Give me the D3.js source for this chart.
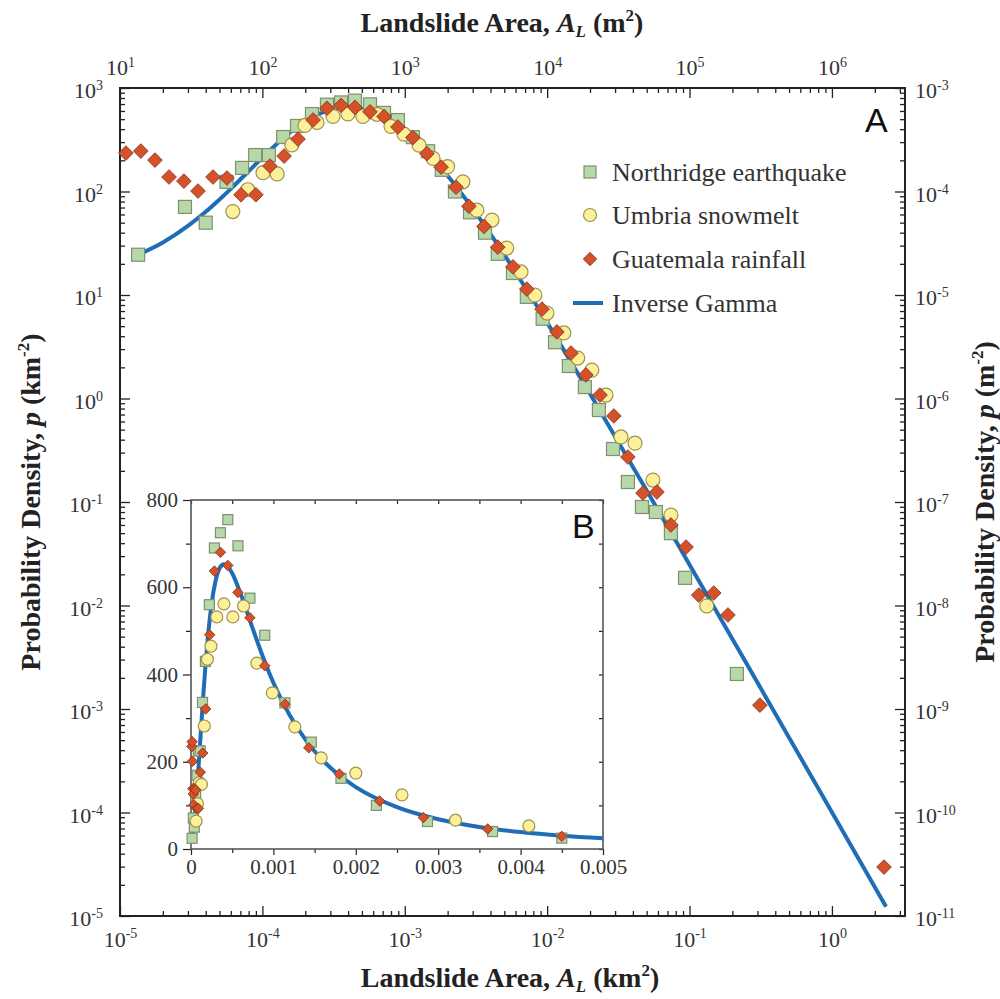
<!DOCTYPE html>
<html>
<head>
<meta charset="utf-8">
<script src="https://cdn.jsdelivr.net/npm/d3@7"></script>
<style>
  body { margin: 0; background: #fff; }
  svg { font-family: "Liberation Serif", "Times New Roman", serif; }
  .tick line { stroke: #222; }
  .tick text { fill: #333; }
  .title { font-weight: bold; font-size: 28px; fill: #222; }
  .legend text { font-size: 26px; fill: #333; }
</style>
</head>
<body>
<div id="chart"></div>
<script>
// Northridge earthquake (km^2, km^-2)
const northridgeArea = [1.34e-5, 2.86e-5, 4.0e-5, 5.6e-5, 7.2e-5, 8.9e-5, 1.11e-4, 1.40e-4, 1.75e-4, 2.23e-4,
  2.84e-4, 3.57e-4, 4.47e-4, 5.7e-4, 7.15e-4, 8.95e-4, 1.14e-3, 1.46e-3, 1.82e-3, 2.25e-3, 2.87e-3, 3.66e-3,
  4.5e-3, 5.75e-3, 7.2e-3, 9.3e-3, 1.135e-2, 1.42e-2, 1.84e-2, 2.31e-2, 2.9e-2, 3.69e-2, 4.63e-2, 5.8e-2,
  7.4e-2, 9.3e-2, 0.215];
const northridgeDensity = [24.5, 71, 50, 124, 169, 225, 225, 336, 430, 560,
  690, 725, 755, 695, 575, 490, 335, 245, 162, 100, 63, 40,
  25, 16.3, 9.6, 5.9, 3.5, 2.06, 1.29, 0.774, 0.325, 0.156, 0.0895, 0.080,
  0.050, 0.0185, 0.00218];

// Umbria snowmelt
const umbriaArea = [6.2e-5, 7.9e-5, 1.01e-4, 1.27e-4, 1.61e-4, 1.99e-4, 2.42e-4, 3.13e-4, 3.99e-4, 5.08e-4,
  6.38e-4, 8.0e-4, 9.87e-4, 1.26e-3, 1.58e-3, 2.0e-3, 2.56e-3, 3.21e-3, 4.1e-3, 5.2e-3, 6.55e-3, 8.2e-3,
  9.97e-3, 1.31e-2, 1.64e-2, 2.06e-2, 2.59e-2, 3.3e-2, 4.14e-2, 5.53e-2, 7.4e-2, 0.132];
const umbriaDensity = [64, 104, 152, 148, 282, 435, 465, 532, 562, 532,
  557, 426, 358, 280, 209, 174, 124, 66, 53, 28.4, 16.7, 10,
  6.7, 4.3, 2.46, 1.88, 1.08, 0.425, 0.37, 0.163, 0.0748, 0.0099];

// Guatemala rainfall
const guatemalaArea = [1.1e-5, 1.4e-5, 1.76e-5, 2.21e-5, 2.81e-5, 3.53e-5, 4.5e-5, 5.64e-5, 7.08e-5, 9.0e-5,
  1.13e-4, 1.42e-4, 1.78e-4, 2.27e-4, 2.84e-4, 3.57e-4, 4.47e-4, 5.7e-4, 7.15e-4, 8.95e-4, 1.14e-3, 1.43e-3,
  1.8e-3, 2.29e-3, 2.82e-3, 3.6e-3, 4.5e-3, 5.75e-3, 7.2e-3, 9.2e-3, 1.17e-2, 1.47e-2, 1.87e-2, 2.35e-2,
  2.94e-2, 3.69e-2, 4.71e-2, 5.9e-2, 7.4e-2, 9.45e-2, 0.116, 0.148, 0.186, 0.312, 2.32];
const guatemalaDensity = [235, 246, 201, 138, 126, 101, 138, 135, 93, 93,
  176, 220, 321, 491, 637, 680, 650, 588, 530, 420, 332, 232,
  172, 110, 72, 46, 29, 18.7, 11.4, 7.3, 4.4, 2.75, 1.69, 1.08,
  0.678, 0.272, 0.122, 0.125, 0.06, 0.0367, 0.0126, 0.0132, 0.0081, 0.00109, 2.97e-5];

// Inverse Gamma curve
const gammaArea = [1.34e-5, 2e-5, 3e-5, 4e-5, 5e-5, 6e-5, 8e-5, 1e-4, 1.25e-4, 1.5e-4, 1.75e-4, 2e-4, 2.5e-4,
  3e-4, 3.5e-4, 4e-4, 4.5e-4, 5e-4, 6e-4, 7e-4, 8e-4, 9e-4, 1e-3, 1.2e-3, 1.4e-3, 1.6e-3, 1.8e-3, 2e-3,
  2.5e-3, 3e-3, 3.5e-3, 4e-3, 4.5e-3, 5e-3, 6e-3, 8e-3, 1e-2, 2e-2, 5e-2, 0.1, 0.3, 1, 2.4];
const gammaDensity = [24.5, 32.2, 46.5, 63.8, 83.8, 106, 157, 213, 285, 355, 419, 475, 562,
  616, 645, 653, 647, 632, 586, 532, 478, 427, 381, 306, 248, 203, 169, 142,
  96, 68.3, 50.6, 38.8, 30.5, 24.5, 16.6, 8.9, 5.41, 1.109, 0.129, 0.0248, 0.0018, 1.005e-4, 1.23e-5];

// tick labels (exponents of ten)
const bottomTickExp = [-5, -4, -3, -2, -1, 0];   // km^2
const topTickExp = [1, 2, 3, 4, 5, 6];           // m^2
const leftTickExp = [3, 2, 1, 0, -1, -2, -3, -4, -5];          // km^-2
const rightTickExp = [-3, -4, -5, -6, -7, -8, -9, -10, -11];   // m^-2
const insetXTicks = [0, 0.001, 0.002, 0.003, 0.004, 0.005];
const insetXLabels = ["0", "0.001", "0.002", "0.003", "0.004", "0.005"];
const insetYTicks = [0, 200, 400, 600, 800];
const insetXMinor = [0.0005, 0.0015, 0.0025, 0.0035, 0.0045];
const insetYMinor = [100, 300, 500, 700];

const legendLabels = ["Northridge earthquake", "Umbria snowmelt", "Guatemala rainfall", "Inverse Gamma"];

const W = 1000, H = 999;
const margin = { top: 88, right: 95, bottom: 83, left: 120 };
const width = W - margin.left - margin.right;
const height = H - margin.top - margin.bottom;

const colors = {
  sqFill: "#b8d8a9", sqStroke: "#7b9170",
  ciFill: "#fcf09a", ciStroke: "#a0924c",
  diFill: "#d4512a", diStroke: "#86331a",
  line: "#1f6db6"
};

const svg = d3.select("#chart").append("svg").attr("width", W).attr("height", H);

const x = d3.scaleLog().domain([1e-5, 3.26]).range([0, width]);
const y = d3.scaleLog().domain([1e-5, 1e3]).range([height, 0]);

const g = svg.append("g")
  .attr("transform", "translate(" + margin.left + "," + margin.top + ")");

function isDecade(v) {
  const e = Math.log10(v);
  return Math.abs(e - Math.round(e)) < 1e-6;
}
const minorX = x.ticks().filter(v => !isDecade(v));
const minorY = y.ticks().filter(v => !isDecade(v));

function powerLabels(axisG, exps) {
  axisG.selectAll(".tick text").each(function (d, i) {
    const t = d3.select(this).text(null);
    t.append("tspan").text("10");
    t.append("tspan").attr("dy", "-0.6em").attr("font-size", "14px").text(exps[i]);
  });
}

function styleAxis(sel, size) {
  sel.attr("font-family", null).attr("font-size", size);
  sel.select(".domain").remove();
}

// bottom
const axB = g.append("g").attr("transform", "translate(0," + height + ")")
  .call(d3.axisBottom(x).tickValues(bottomTickExp.map(e => Math.pow(10, e))).tickSize(-10).tickSizeOuter(0).tickPadding(15));
styleAxis(axB, 22); powerLabels(axB, bottomTickExp);
styleAxis(g.append("g").attr("transform", "translate(0," + height + ")")
  .call(d3.axisBottom(x).tickValues(minorX).tickSize(-5).tickSizeOuter(0).tickFormat("")), 22);

// top
const axT = g.append("g")
  .call(d3.axisTop(x).tickValues(topTickExp.map(e => Math.pow(10, e - 6))).tickSize(-10).tickSizeOuter(0).tickPadding(13));
styleAxis(axT, 22); powerLabels(axT, topTickExp);
styleAxis(g.append("g")
  .call(d3.axisTop(x).tickValues(minorX).tickSize(-5).tickSizeOuter(0).tickFormat("")), 22);

// left
const axL = g.append("g")
  .call(d3.axisLeft(y).tickValues(leftTickExp.map(e => Math.pow(10, e))).tickSize(-10).tickSizeOuter(0).tickPadding(17));
styleAxis(axL, 22); powerLabels(axL, leftTickExp);
axL.selectAll(".tick text").attr("dy", "0.45em");
styleAxis(g.append("g")
  .call(d3.axisLeft(y).tickValues(minorY).tickSize(-5).tickSizeOuter(0).tickFormat("")), 22);

// right
const axR = g.append("g").attr("transform", "translate(" + width + ",0)")
  .call(d3.axisRight(y).tickValues(rightTickExp.map(e => Math.pow(10, e + 6))).tickSize(-10).tickSizeOuter(0).tickPadding(10));
styleAxis(axR, 22); powerLabels(axR, rightTickExp);
axR.selectAll(".tick text").attr("dy", "0.45em");
styleAxis(g.append("g").attr("transform", "translate(" + width + ",0)")
  .call(d3.axisRight(y).tickValues(minorY).tickSize(-5).tickSizeOuter(0).tickFormat("")), 22);

g.selectAll(".tick line").attr("stroke-width", 1.3);

g.append("rect").attr("width", width).attr("height", height)
  .attr("fill", "none").attr("stroke", "#222").attr("stroke-width", 2);

// markers
function drawMarkers(layer, xs, ys, area, dens, kind, s) {
  const pts = area.map((a, i) => [xs(a), ys(dens[i])]);
  if (kind === "square") {
    layer.selectAll(null).data(pts).enter().append("rect")
      .attr("x", d => d[0] - s / 2).attr("y", d => d[1] - s / 2)
      .attr("width", s).attr("height", s)
      .attr("fill", colors.sqFill).attr("stroke", colors.sqStroke).attr("stroke-width", 1.2);
  } else if (kind === "circle") {
    layer.selectAll(null).data(pts).enter().append("circle")
      .attr("cx", d => d[0]).attr("cy", d => d[1]).attr("r", s / 2)
      .attr("fill", colors.ciFill).attr("stroke", colors.ciStroke).attr("stroke-width", 1.2);
  } else {
    const sym = d3.symbol(d3.symbolSquare, s * s * 0.55);
    layer.selectAll(null).data(pts).enter().append("path")
      .attr("d", sym)
      .attr("transform", d => "translate(" + d[0] + "," + d[1] + ") rotate(45)")
      .attr("fill", colors.diFill).attr("stroke", colors.diStroke).attr("stroke-width", 0.8);
  }
}

const line = d3.line()
  .x(d => x(d[0])).y(d => y(d[1]))
  .curve(d3.curveMonotoneX);

g.append("path")
  .datum(gammaArea.map((a, i) => [a, gammaDensity[i]]))
  .attr("d", line)
  .attr("fill", "none").attr("stroke", colors.line).attr("stroke-width", 4);

drawMarkers(g, x, y, northridgeArea, northridgeDensity, "square", 13);
drawMarkers(g, x, y, umbriaArea, umbriaDensity, "circle", 14);
drawMarkers(g, x, y, guatemalaArea, guatemalaDensity, "diamond", 14);

// panel letter A
g.append("text").attr("x", 745).attr("y", 44)
  .attr("font-family", "'Liberation Sans', Arial, sans-serif").attr("font-size", 34)
  .attr("fill", "#111").text("A");

// legend
const legend = svg.append("g").attr("class", "legend");
const legendRows = [172, 215, 259, 303];
legendRows.forEach((ly, i) => {
  if (i === 0) {
    legend.append("rect").attr("x", 584).attr("y", ly - 6).attr("width", 12).attr("height", 12)
      .attr("fill", colors.sqFill).attr("stroke", colors.sqStroke).attr("stroke-width", 1.2);
  } else if (i === 1) {
    legend.append("circle").attr("cx", 590).attr("cy", ly).attr("r", 6.5)
      .attr("fill", colors.ciFill).attr("stroke", colors.ciStroke).attr("stroke-width", 1.2);
  } else if (i === 2) {
    legend.append("path").attr("d", d3.symbol(d3.symbolSquare, 90))
      .attr("transform", "translate(590," + ly + ") rotate(45)")
      .attr("fill", colors.diFill).attr("stroke", colors.diStroke).attr("stroke-width", 0.8);
  } else {
    legend.append("line").attr("x1", 573).attr("x2", 603).attr("y1", ly).attr("y2", ly)
      .attr("stroke", colors.line).attr("stroke-width", 4);
  }
  legend.append("text").attr("x", 612).attr("y", ly + 9).text(legendLabels[i]);
});

// inset B
const inset = { left: 191, top: 500, width: 412, height: 349 };
const ix = d3.scaleLinear().domain([0, 0.005]).range([0, inset.width]);
const iy = d3.scaleLinear().domain([0, 800]).range([inset.height, 0]);

const ig = svg.append("g")
  .attr("transform", "translate(" + inset.left + "," + inset.top + ")");

ig.append("rect").attr("x", -1).attr("width", inset.width + 1).attr("height", inset.height)
  .attr("fill", "#fff");

const iaxB = ig.append("g").attr("transform", "translate(0," + inset.height + ")")
  .call(d3.axisBottom(ix).tickValues(insetXTicks).tickSize(6).tickSizeOuter(0).tickPadding(4)
    .tickFormat((d, i) => insetXLabels[i]));
styleAxis(iaxB, 21);
styleAxis(ig.append("g").attr("transform", "translate(0," + inset.height + ")")
  .call(d3.axisBottom(ix).tickValues(insetXMinor).tickSize(4).tickSizeOuter(0).tickFormat("")), 21);

const iaxL = ig.append("g")
  .call(d3.axisLeft(iy).tickValues(insetYTicks).tickSize(8).tickSizeOuter(0).tickPadding(5));
styleAxis(iaxL, 21);
styleAxis(ig.append("g")
  .call(d3.axisLeft(iy).tickValues(insetYMinor).tickSize(5).tickSizeOuter(0).tickFormat("")), 21);

// small inward ticks on top and right edges
styleAxis(ig.append("g")
  .call(d3.axisTop(ix).tickValues(insetXTicks.concat(insetXMinor)).tickSize(-4).tickSizeOuter(0).tickFormat("")), 21);
styleAxis(ig.append("g").attr("transform", "translate(" + inset.width + ",0)")
  .call(d3.axisRight(iy).tickValues(insetYTicks.concat(insetYMinor)).tickSize(-4).tickSizeOuter(0).tickFormat("")), 21);
ig.selectAll(".tick line").attr("stroke", "#444").attr("stroke-width", 1.2);

ig.append("rect").attr("width", inset.width).attr("height", inset.height)
  .attr("fill", "none").attr("stroke", "#555").attr("stroke-width", 1.6);

const inRange = a => a <= 0.005;
const ipts = gammaArea.map((a, i) => [a, gammaDensity[i]]).filter(d => inRange(d[0]));
ig.append("path")
  .datum(ipts)
  .attr("d", d3.line().x(d => ix(d[0])).y(d => iy(d[1])).curve(d3.curveMonotoneX))
  .attr("fill", "none").attr("stroke", colors.line).attr("stroke-width", 4);

function subset(area, dens) {
  const a = [], p = [];
  area.forEach((v, i) => { if (inRange(v)) { a.push(v); p.push(dens[i]); } });
  return [a, p];
}
let s = subset(northridgeArea, northridgeDensity);
drawMarkers(ig, ix, iy, s[0], s[1], "square", 10);
s = subset(umbriaArea, umbriaDensity);
drawMarkers(ig, ix, iy, s[0], s[1], "circle", 12);
s = subset(guatemalaArea, guatemalaDensity);
drawMarkers(ig, ix, iy, s[0], s[1], "diamond", 10);

ig.append("text").attr("x", 381).attr("y", 38)
  .attr("font-family", "'Liberation Sans', Arial, sans-serif").attr("font-size", 34)
  .attr("fill", "#111").text("B");

// axis titles
function areaTitle(tx, ty, unit) {
  const t = svg.append("text").attr("class", "title")
    .attr("x", tx).attr("y", ty).attr("text-anchor", "middle");
  t.append("tspan").text("Landslide Area, ");
  t.append("tspan").attr("font-style", "italic").text("A");
  t.append("tspan").attr("font-style", "italic").attr("font-size", "17px").attr("dy", 5).text("L");
  t.append("tspan").attr("dy", -5).text(" (" + unit);
  t.append("tspan").attr("font-size", "17px").attr("dy", -11).text("2");
  t.append("tspan").attr("dy", 11).text(")");
}
areaTitle(502, 32, "m");
areaTitle(510, 987, "km");

function densityTitle(tx, unit) {
  const t = svg.append("text").attr("class", "title")
    .attr("transform", "translate(" + tx + "," + (margin.top + height / 2) + ") rotate(-90)")
    .attr("text-anchor", "middle");
  t.append("tspan").text("Probability Density, ");
  t.append("tspan").attr("font-style", "italic").text("p");
  t.append("tspan").text(" (" + unit);
  t.append("tspan").attr("font-size", "17px").attr("dy", -11).text("-2");
  t.append("tspan").attr("dy", 11).text(")");
}
densityTitle(40, "km");
densityTitle(994, "m");
</script>
</body>
</html>
